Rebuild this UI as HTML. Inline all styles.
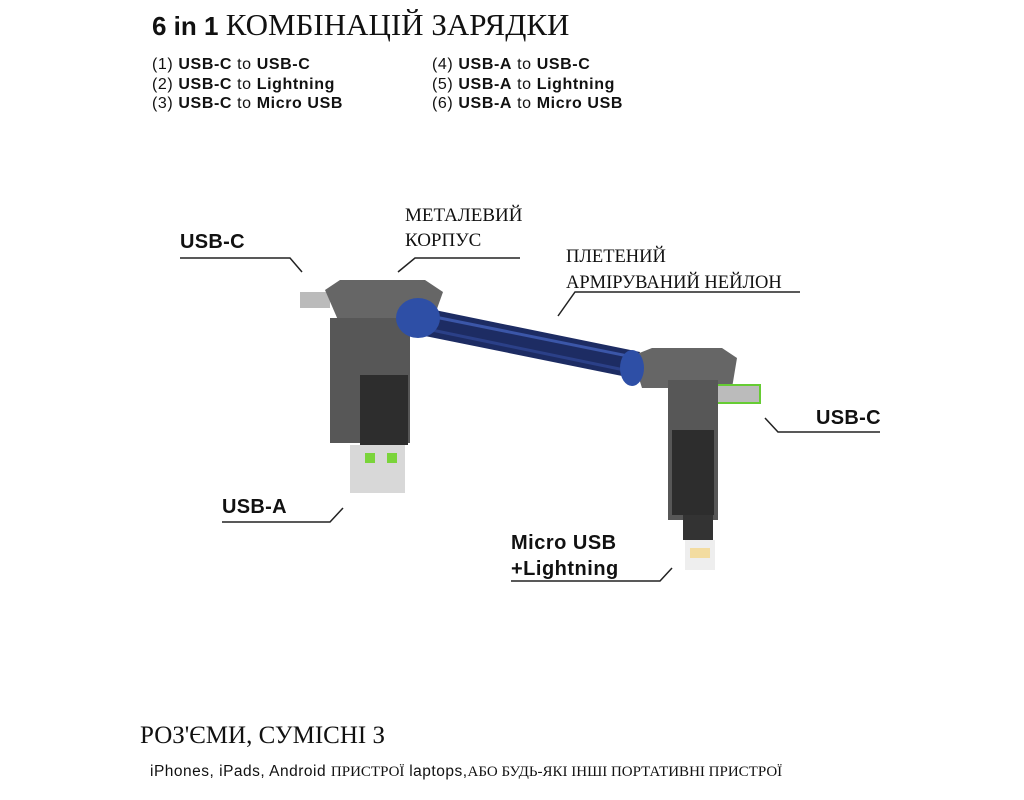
<!DOCTYPE html>
<html><head><meta charset="utf-8"><style>
body{margin:0;width:1024px;height:800px;background:#fff;position:relative;overflow:hidden;font-family:"Liberation Sans",sans-serif;color:#111}
.a{position:absolute;white-space:nowrap}
.b{font-weight:bold}
.s{font-family:"Liberation Serif","Noto Serif CJK SC",serif}
.l{font-size:16px;line-height:19.5px;letter-spacing:0.6px}
</style></head><body>
<div class="a" style="left:152px;top:7px;font-size:26px"><span class="b">6 in 1</span> <span class="s" style="font-size:31px">КОМБІНАЦІЙ ЗАРЯДКИ</span></div>
<div class="a l" style="left:152px;top:55px">(1) <b>USB-C</b> to <b>USB-C</b><br>(2) <b>USB-C</b> to <b>Lightning</b><br>(3) <b>USB-C</b> to <b>Micro USB</b></div>
<div class="a l" style="left:432px;top:55px">(4) <b>USB-A</b> to <b>USB-C</b><br>(5) <b>USB-A</b> to <b>Lightning</b><br>(6) <b>USB-A</b> to <b>Micro USB</b></div>
<div class="a s" style="left:405px;top:203px;font-size:19px;line-height:25px">МЕТАЛЕВИЙ<br>КОРПУС</div>
<div class="a s" style="left:566px;top:244px;font-size:18.5px;line-height:26px">ПЛЕТЕНИЙ<br>АРМІРУВАНИЙ НЕЙЛОН</div>
<div class="a b" style="left:180px;top:231px;font-size:20px;letter-spacing:0.3px">USB-C</div>
<div class="a b" style="left:816px;top:407px;font-size:20px;letter-spacing:0.3px">USB-C</div>
<div class="a b" style="left:222px;top:496px;font-size:20px;letter-spacing:0.3px">USB-A</div>
<div class="a b" style="left:511px;top:530px;font-size:20px;line-height:26px;letter-spacing:0.5px">Micro USB<br>+Lightning</div>
<div class="a s" style="left:140px;top:722px;font-size:25px">РОЗ'ЄМИ, СУМІСНІ З</div>
<div class="a" style="left:150px;top:763px;font-size:15.5px;letter-spacing:0.5px">iPhones, iPads, Android <span class="s" style="font-size:15px;letter-spacing:0">ПРИСТРОЇ</span> laptops,<span class="s" style="font-size:15px;letter-spacing:0">АБО БУДЬ-ЯКІ ІНШІ ПОРТАТИВНІ ПРИСТРОЇ</span></div>
<svg class="a" style="left:0;top:0" width="1024" height="800">
<g stroke="#222" stroke-width="1.5" fill="none">
<path d="M180 258H290L302 272"/>
<path d="M520 258H415L398 272"/>
<path d="M800 292H575L558 316"/>
<path d="M880 432H778L765 418"/>
<path d="M222 522H330L343 508"/>
<path d="M511 581H660L672 568"/>
</g>
<path d="M425 308L640 352L632 378L420 335Z" fill="#1d2c63"/>
<path d="M425 315L638 358" stroke="#3b56a8" stroke-width="3"/>
<path d="M422 328L634 372" stroke="#2b4088" stroke-width="3"/>
<path d="M300 292h30v16h-30z" fill="#bbb"/>
<path d="M325 290l15-10h85l18 12-10 28-95 0z" fill="#666"/>
<path d="M330 318h80v125h-80z" fill="#575757"/>
<path d="M360 375h48v70h-48z" fill="#2d2d2d"/>
<path d="M350 445h55v48h-55z" fill="#d8d8d8"/>
<rect x="365" y="453" width="10" height="10" fill="#7ad43a"/><rect x="387" y="453" width="10" height="10" fill="#7ad43a"/>
<ellipse cx="418" cy="318" rx="22" ry="20" fill="#2e4fa6"/>
<path d="M632 356l20-8h70l15 10-5 30h-90z" fill="#666"/>
<path d="M705 385h55v18h-55z" fill="#bbb" stroke="#6c3" stroke-width="2"/>
<path d="M668 380h50v140h-50z" fill="#575757"/>
<path d="M672 430h42v85h-42z" fill="#2d2d2d"/>
<path d="M683 515h30v25h-30z" fill="#333"/>
<path d="M685 540h30v30h-30z" fill="#eee"/>
<rect x="690" y="548" width="20" height="10" fill="#f3dca0"/>
<ellipse cx="632" cy="368" rx="12" ry="18" fill="#2e4fa6"/>
</svg>
</body></html>
